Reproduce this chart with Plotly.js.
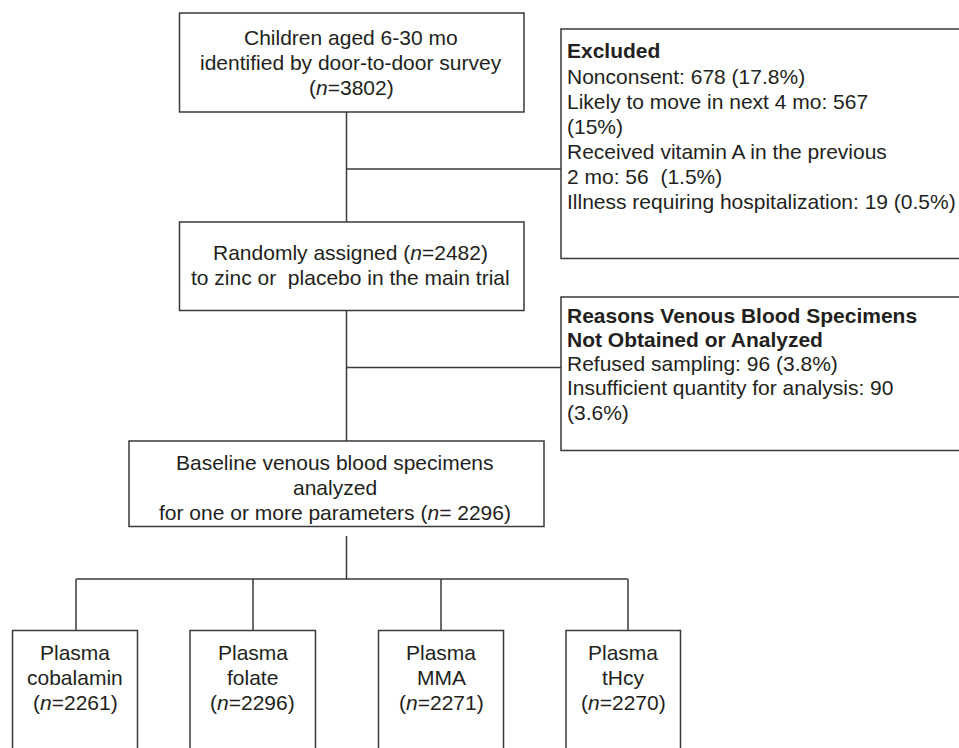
<!DOCTYPE html>
<html>
<head>
<meta charset="utf-8">
<script src="https://cdn.plot.ly/plotly-3.0.1.min.js"></script>
<style>html,body{margin:0;padding:0;background:#fff;}#chart{width:959px;height:748px;}</style>
</head>
<body>
<div id="chart"></div>
<script>
// ---- data ----
const stageN = [3802, 2482, 2296];
const excludedCauses = ['Nonconsent', 'Likely to move in next 4 mo', 'Received vitamin A in the previous 2 mo', 'Illness requiring hospitalization'];
const excludedCounts = [678, 567, 56, 19];
const excludedPct = ['17.8', '15', '1.5', '0.5'];
const bloodCauses = ['Refused sampling', 'Insufficient quantity for analysis'];
const bloodCounts = [96, 90];
const bloodPct = ['3.8', '3.6'];
const paramNames = ['cobalamin', 'folate', 'MMA', 'tHcy'];
const paramN = [2261, 2296, 2271, 2270];

// ---- text lines built from the data ----
const NB = '\u00a0';
const topLines = ['Children aged 6-30 mo', 'identified by door-to-door survey', '(<i>n</i>=' + stageN[0] + ')'];
const randLines = ['Randomly assigned (<i>n</i>=' + stageN[1] + ')', 'to zinc or' + NB + ' placebo in the main trial'];
const baseLines = ['Baseline venous blood specimens', 'analyzed', 'for one or more parameters (<i>n</i>=' + NB + stageN[2] + ')'];
const exclLines = [
  '<b>Excluded</b>',
  excludedCauses[0] + ': ' + excludedCounts[0] + ' (' + excludedPct[0] + '%)',
  excludedCauses[1] + ': ' + excludedCounts[1],
  '(' + excludedPct[1] + '%)',
  'Received vitamin A in the previous',
  '2 mo: ' + excludedCounts[2] + NB + ' (' + excludedPct[2] + '%)',
  excludedCauses[3] + ': ' + excludedCounts[3] + ' (' + excludedPct[3] + '%)'
];
const bloodLines = [
  '<b>Reasons Venous Blood Specimens</b>',
  '<b>Not Obtained or Analyzed</b>',
  bloodCauses[0] + ': ' + bloodCounts[0] + ' (' + bloodPct[0] + '%)',
  bloodCauses[1] + ': ' + bloodCounts[1],
  '(' + bloodPct[1] + '%)'
];

// ---- layout geometry (pixels) ----
const LC = '#3a3a3a', LW = 1.5;
const shapes = [];
function rect(x0, y0, x1, y1) { shapes.push({type: 'rect', xref: 'x', yref: 'y', x0, y0, x1, y1, line: {color: LC, width: LW}, fillcolor: 'rgba(0,0,0,0)'}); }
function seg(x0, y0, x1, y1) { shapes.push({type: 'line', xref: 'x', yref: 'y', x0, y0, x1, y1, line: {color: LC, width: LW}}); }

rect(179.5, 13, 524, 112);      // screened
rect(561, 29, 975, 258.5);      // excluded
rect(179.5, 222, 524, 310.5);   // randomized
rect(561, 297, 975, 450.5);     // reasons
rect(129, 441, 544, 526.5);     // baseline
const bx = [[12.5, 137.5], [190, 315.5], [378.5, 503.5], [566, 680.5]];
bx.forEach(b => rect(b[0], 630.5, b[1], 760));

seg(346.5, 112, 346.5, 222);
seg(346.5, 169, 561, 169);
seg(346.5, 310.5, 346.5, 441);
seg(346.5, 367.5, 561, 367.5);
seg(346.5, 536, 346.5, 579);
seg(76, 579, 628, 579);
[76, 253, 441, 628].forEach(x => seg(x, 579, x, 630.5));

const FONT = {family: 'Liberation Sans, Arial, Helvetica, sans-serif', size: 21, color: '#231f20'};
const annotations = [];
function txt(x, y, text, anchor) {
  annotations.push({xref: 'x', yref: 'y', x, y, text, showarrow: false, xanchor: anchor || 'center', yanchor: 'middle', font: FONT, borderpad: 0});
}
topLines.forEach((t, i) => txt(351, 37.5 + 25 * i, t));
randLines.forEach((t, i) => txt(350, 252 + 25 * i, t));
baseLines.forEach((t, i) => txt(335, 462 + 25 * i, t));
const exY = [50, 76.5, 101.5, 126.5, 151.5, 176.5, 201.5];
exclLines.forEach((t, i) => txt(566, exY[i], t, 'left'));
bloodLines.forEach((t, i) => txt(566, 315 + 24.3 * i, t, 'left'));
const bcx = [75, 252.5, 441, 623];
paramNames.forEach((p, i) => {
  txt(bcx[i], 652, 'Plasma');
  txt(bcx[i], 677, p);
  txt(bcx[i], 702, '(<i>n</i>=' + paramN[i] + ')');
});

const layout = {
  width: 959, height: 748,
  margin: {l: 0, r: 0, t: 0, b: 0, pad: 0},
  paper_bgcolor: '#fff', plot_bgcolor: '#fff',
  xaxis: {range: [0, 959], visible: false, fixedrange: true},
  yaxis: {range: [748, 0], visible: false, fixedrange: true},
  showlegend: false,
  shapes, annotations
};
Plotly.newPlot('chart', [], layout, {staticPlot: true, displayModeBar: false});
</script>
</body>
</html>
